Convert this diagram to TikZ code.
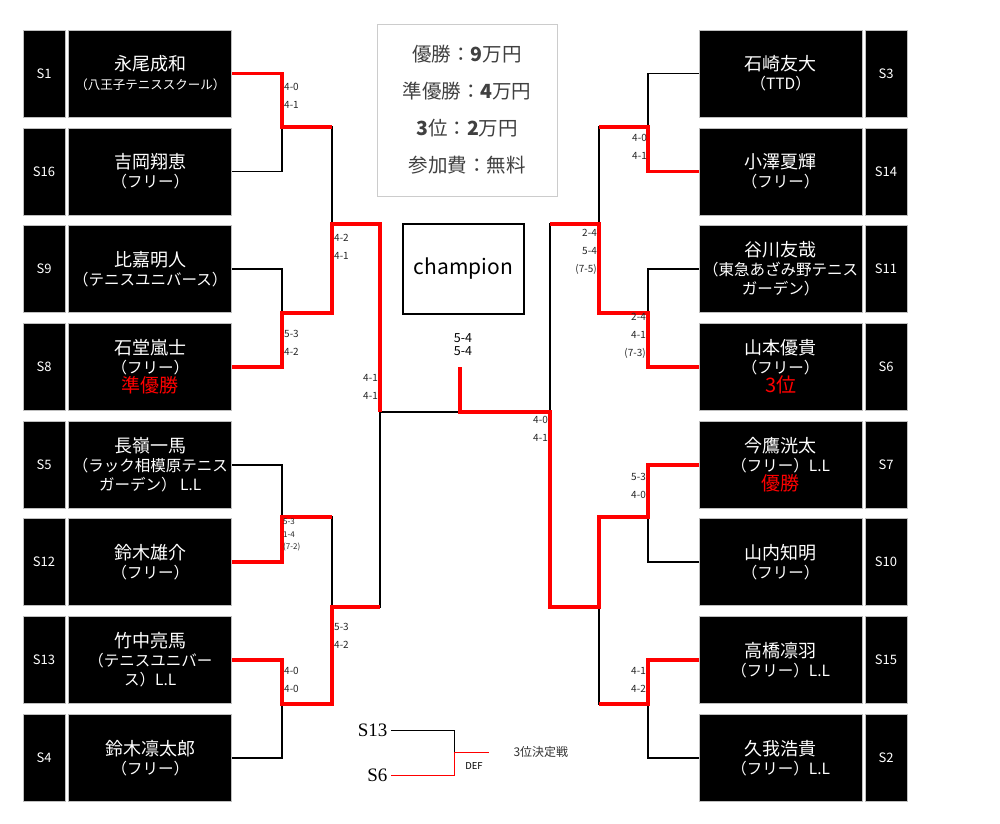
\documentclass[tikz,border=0pt]{standalone}
\usepackage{fontspec}
\setmainfont{Noto Sans CJK JP}
\newfontfamily\serifnum{Liberation Serif}
\usetikzlibrary{positioning}
\tikzstyle{seedbox}=[draw=gray!50,line width=.8pt,fill=black,text=white,minimum width=42pt,minimum height=87pt,inner sep=0pt,font=\fontsize{13}{15}\selectfont]
\tikzstyle{namebox}=[draw=gray!50,line width=.8pt,fill=black,text=white,minimum width=163pt,minimum height=87pt,inner sep=0pt,align=center,font=\fontsize{18}{19}\selectfont]
\tikzstyle{lose}=[draw=black,line width=1.5pt]
\tikzstyle{win}=[draw=red,line width=3.5pt]
\tikzstyle{score}=[inner sep=0pt,align=left,anchor=west,text=black!85,font=\fontsize{10}{18}\selectfont]
\tikzstyle{scorer}=[score,align=right,anchor=east]
\newcommand{\subt}[1]{{\fontsize{15.5}{19}\selectfont #1}}
\newcommand{\rank}[1]{{\color{red}\fontsize{19}{19}\selectfont #1}}

\begin{document}
\begin{tikzpicture}[x=1pt,y=-1pt]
\useasboundingbox (0,0) rectangle (1000,823);
% left half
\node[seedbox] (s1) at (44,73.5) {S1};
\node[namebox,right=3pt of s1] (p1) {永尾成和\\{\fontsize{12.5}{19}\selectfont （八王子テニススクール）}};
\node[seedbox] (s16) at (44,171.5) {S16};
\node[namebox,right=3pt of s16] (p16) {吉岡翔恵\\\subt{（フリー）}};
\node[seedbox] (s9) at (44,269) {S9};
\node[namebox,right=3pt of s9] (p9) {比嘉明人\\\subt{（テニスユニバース）}};
\node[seedbox] (s8) at (44,367) {S8};
\node[namebox,right=3pt of s8] (p8) {石堂嵐士\\\subt{（フリー）}\\\rank{準優勝}};
\node[seedbox] (s5) at (44,465) {S5};
\node[namebox,right=3pt of s5] (p5) {長嶺一馬\\\subt{（ラック相模原テニス}\\\subt{ガーデン） L.L}};
\node[seedbox] (s12) at (44,562) {S12};
\node[namebox,right=3pt of s12] (p12) {鈴木雄介\\\subt{（フリー）}};
\node[seedbox] (s13) at (44,660) {S13};
\node[namebox,right=3pt of s13] (p13) {竹中亮馬\\\subt{（テニスユニバー}\\\subt{ス）L.L}};
\node[seedbox] (s4) at (44,758) {S4};
\node[namebox,right=3pt of s4] (p4) {鈴木凛太郎\\\subt{（フリー）}};
% right half
\node[seedbox] (s3) at (886,73.5) {S3};
\node[namebox,left=2pt of s3] (p3) {石崎友大\\\subt{（TTD）}};
\node[seedbox] (s14) at (886,171.5) {S14};
\node[namebox,left=2pt of s14] (p14) {小澤夏輝\\\subt{（フリー）}};
\node[seedbox] (s11) at (886,269) {S11};
\node[namebox,left=2pt of s11] (p11) {谷川友哉\\\subt{（東急あざみ野テニス}\\\subt{ガーデン）}};
\node[seedbox] (s6) at (886,367) {S6};
\node[namebox,left=2pt of s6] (p6) {山本優貴\\\subt{（フリー）}\\{\color{red}\fontsize{20}{19}\selectfont 3位}};
\node[seedbox] (s7) at (886,465) {S7};
\node[namebox,left=2pt of s7] (p7) {今鷹洸太\\\subt{（フリー）L.L}\\\rank{優勝}};
\node[seedbox] (s10) at (886,562) {S10};
\node[namebox,left=2pt of s10] (p10) {山内知明\\\subt{（フリー）}};
\node[seedbox] (s15) at (886,660) {S15};
\node[namebox,left=2pt of s15] (p15) {高橋凛羽\\\subt{（フリー）L.L}};
\node[seedbox] (s2) at (886,758) {S2};
\node[namebox,left=2pt of s2] (p2) {久我浩貴\\\subt{（フリー）L.L}};
% center
\node[draw=gray!40,line width=1pt,minimum width=180pt,minimum height=172pt,align=center,text=black!75,font=\fontsize{19.5}{37}\selectfont] (prize) at (467,110) {優勝：\textbf{9}万円\\準優勝：\textbf{4}万円\\\textbf{3}位：\textbf{2}万円\\参加費：無料};
\node[draw,line width=1.5pt,minimum width=121pt,minimum height=90pt,font=\fontsize{21}{22}\selectfont] (champ) at (463.5,269) {champion};
\node[inner sep=0pt,align=center,font=\fontsize{12.5}{13}\selectfont] (fsc) at (463,344.5) {5-4\\5-4};
% joints
\coordinate (la1) at (282,127);
\coordinate (la2) at (282,313);
\coordinate (la3) at (282,517);
\coordinate (la4) at (282,704);
\coordinate (lb1) at (332,224);
\coordinate (lb2) at (332,607);
\coordinate (lc) at (380,412);
\coordinate (ra1) at (648,127);
\coordinate (ra2) at (648,313);
\coordinate (ra3) at (648,517);
\coordinate (ra4) at (648,704);
\coordinate (rb1) at (599,224);
\coordinate (rb2) at (599,607);
\coordinate (rc) at (550,412);
\coordinate (fin) at (460,412);
\coordinate (ftop) at (460,367);
\draw[lose] (p1.east) -| (la1) |- (p16.east);
\draw[lose] (p9.east) -| (la2) |- (p8.east);
\draw[lose] (p5.east) -| (la3) |- (p12.east);
\draw[lose] (p13.east) -| (la4) |- (p4.east);
\draw[lose] (la1) -| (lb1) |- (la2);
\draw[lose] (la3) -| (lb2) |- (la4);
\draw[lose] (lb1) -| (lc) |- (lb2);
\draw[lose] (p3.west) -| (ra1) |- (p14.west);
\draw[lose] (p11.west) -| (ra2) |- (p6.west);
\draw[lose] (p7.west) -| (ra3) |- (p10.west);
\draw[lose] (p15.west) -| (ra4) |- (p2.west);
\draw[lose] (ra1) -| (rb1) |- (ra2);
\draw[lose] (ra3) -| (rb2) |- (ra4);
\draw[lose] (rb1) -| (rc) |- (rb2);
\draw[lose] (lc) -- (fin) -- (rc);
\draw[win] (p1.east) -| (la1) -- (la1 -| lb1);
\draw[win] (p8.east) -| (la2) -| (lb1) -| (lc);
\draw[win] (p12.east) -| (la3) -- (la3 -| lb2);
\draw[win] (p13.east) -| (la4) -| (lb2) -- (lb2 -| lc);
\draw[win] (p14.west) -| (ra1) -- (ra1 -| rb1);
\draw[win] (p6.west) -| (ra2) -| (rb1) -- (rb1 -| rc);
\draw[win] (p15.west) -| (ra4) -- (ra4 -| rb2);
\draw[win] (p7.west) -| (ra3) -| (rb2) -| (rc) -- (fin) -- (ftop);
% scores
\node[score] (sc1) at (284,95.5) {4-0\\4-1};
\node[score] (sc2) at (284,342.5) {5-3\\4-2};
\node[score,font=\fontsize{8}{12.5}\selectfont] (sc3) at (283,535) {5-3\\1-4\\(7-2)};
\node[score] (sc4) at (284,680) {4-0\\4-0};
\node[score] (sc5) at (334,247) {4-2\\4-1};
\node[score] (sc6) at (334,636) {5-3\\4-2};
\node[scorer] (sc7) at (378,387) {4-1\\4-1};
\node[scorer] (sc8) at (647,147) {4-0\\4-1};
\node[scorer] (sc9) at (597,251.5) {2-4\\5-4\\(7-5)};
\node[scorer] (sc10) at (646,335.5) {2-4\\4-1\\(7-3)};
\node[scorer] (sc11) at (548,429) {4-0\\4-1};
\node[scorer] (sc12) at (646,486) {5-3\\4-0};
\node[scorer] (sc13) at (646,680) {4-1\\4-2};
% third place
\node[anchor=east,font=\serifnum\fontsize{19}{19}\selectfont] (t13) at (391,730) {S13};
\node[anchor=east,font=\serifnum\fontsize{19}{19}\selectfont] (t6) at (391,775) {S6};
\coordinate (tm) at (454,752);
\coordinate (tend) at (489,752);
\draw[line width=1pt] (t13.east) -| (tm);
\draw[red,line width=1pt] (t6.east) -| (tm) -- (tend);
\node[font=\fontsize{9.5}{10}\selectfont] (def) at (474,766) {DEF};
\node[anchor=west,text=black!80,font=\fontsize{12}{13}\selectfont] (third) at (510,752) {3位決定戦};
\end{tikzpicture}
\end{document}
